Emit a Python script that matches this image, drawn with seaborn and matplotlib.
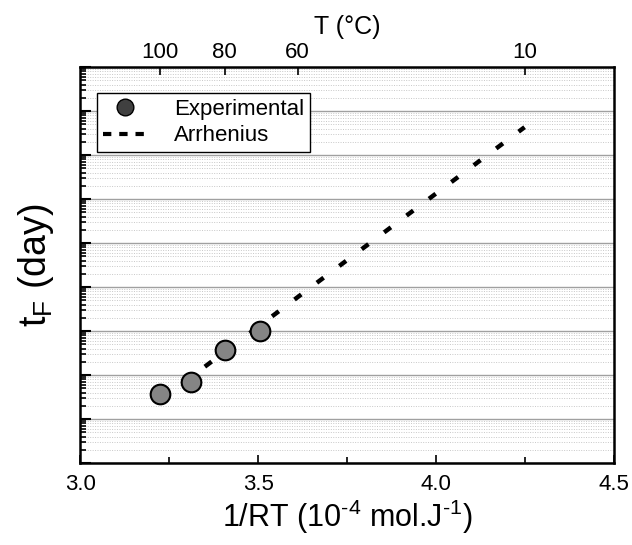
import numpy as np
import pandas as pd
import matplotlib
matplotlib.use('Agg')
import matplotlib.pyplot as plt
import seaborn as sns
from matplotlib.lines import Line2D
from matplotlib.ticker import LogLocator, NullFormatter, MultipleLocator

sns.set_style('ticks')
plt.rcParams['font.family'] = ['Liberation Sans', 'DejaVu Sans']
plt.rcParams['mathtext.fontset'] = 'custom'
plt.rcParams['mathtext.rm'] = 'Liberation Sans'
plt.rcParams['mathtext.it'] = 'Liberation Sans:italic'
for k in ['text.color', 'axes.labelcolor', 'xtick.color', 'ytick.color']:
    plt.rcParams[k] = 'black'

# data
exp_x = [3.224, 3.312, 3.406, 3.505]      # 1/RT (1e-4 mol/J)
exp_y = [0.37, 0.70, 3.7, 10.0]           # tF (day)
arr_x = [3.224, 4.248]
arr_y = [0.27, 4.3e5]
top_temps = [100, 80, 60, 10]             # T (degC)

R = 8.314
df_exp = pd.DataFrame({'x': exp_x, 'y': exp_y})
df_arr = pd.DataFrame({'x': arr_x, 'y': arr_y})

fig = plt.figure(figsize=(6.32, 5.45), dpi=100)
ax = fig.add_axes([0.127, 0.150, 0.845, 0.727])

ax.set_yscale('log')
ax.set_xlim(3.0, 4.5)
ax.set_ylim(1e-2, 1e7)

ax.yaxis.set_major_locator(LogLocator(base=10, numticks=20))
ax.yaxis.set_minor_locator(LogLocator(base=10, subs=np.arange(2, 10), numticks=20))
ax.yaxis.set_major_formatter(NullFormatter())
ax.yaxis.set_minor_formatter(NullFormatter())
ax.grid(axis='y', which='major', color='#a0a0a0', lw=1.0, ls='-')
ax.grid(axis='y', which='minor', color='#c8c8c8', lw=0.7, ls=(0, (1, 1.5)))
ax.set_axisbelow(True)

sns.lineplot(data=df_arr, x='x', y='y', ax=ax, color='black', lw=3.2,
             dashes=False, zorder=2)
ax.lines[-1].set_dashes((1.9, 4.4))
ax.lines[-1].set_dash_capstyle('butt')
sns.scatterplot(data=df_exp, x='x', y='y', ax=ax, s=200, color='#858585',
                edgecolor='black', linewidth=1.5, zorder=3)

ax.xaxis.set_major_locator(MultipleLocator(0.5))
ax.xaxis.set_minor_locator(MultipleLocator(0.25))
ax.tick_params(axis='x', which='major', direction='in', length=6, width=1.2,
               labelsize=16, top=False, pad=8)
ax.tick_params(axis='x', which='minor', direction='in', length=4, width=1.2, top=False)
ax.tick_params(axis='y', which='major', direction='in', length=8, width=1.5, right=False)
ax.tick_params(axis='y', which='minor', direction='in', length=4, width=1.2, right=False)
ax.set_xticks([3.0, 3.5, 4.0, 4.5])
ax.set_xticklabels(['3.0', '3.5', '4.0', '4.5'])

ax.set_xlabel('1/RT (10$^\\mathregular{\u20104}$ mol.J$^\\mathregular{\u20101}$)',
              fontsize=22, labelpad=2)
ax.set_ylabel('t$_\\mathregular{F}$ (day)', fontsize=27, labelpad=14)

for sp in ax.spines.values():
    sp.set_linewidth(1.8)
    sp.set_color('black')

# top axis in degC
top = ax.twiny()
top.set_xlim(ax.get_xlim())
top_pos = [1e4 / (R * (t + 273.15)) for t in top_temps]
top.set_xticks(top_pos)
top.set_xticklabels([str(t) for t in top_temps])
top.tick_params(axis='x', direction='in', length=6, width=1.2, labelsize=16, pad=3)
top.set_xlabel('T (°C)', fontsize=18, labelpad=6)
for sp in top.spines.values():
    sp.set_visible(False)

handles = [Line2D([], [], marker='o', ls='none', markersize=12,
                  markerfacecolor='#404040', markeredgecolor='black', markeredgewidth=1),
           Line2D([], [], color='black', lw=3, dashes=(2, 1.9))]
leg = ax.legend(handles, ['Experimental', 'Arrhenius'], loc='upper left',
                bbox_to_anchor=(0.032, 0.934), fontsize=16, fancybox=False,
                framealpha=1, edgecolor='black', handlelength=2.0,
                handletextpad=1.2, borderpad=0.25, labelspacing=0.25,
                borderaxespad=0)
leg.get_frame().set_linewidth(1.0)

fig.savefig('out.png', dpi=100)
